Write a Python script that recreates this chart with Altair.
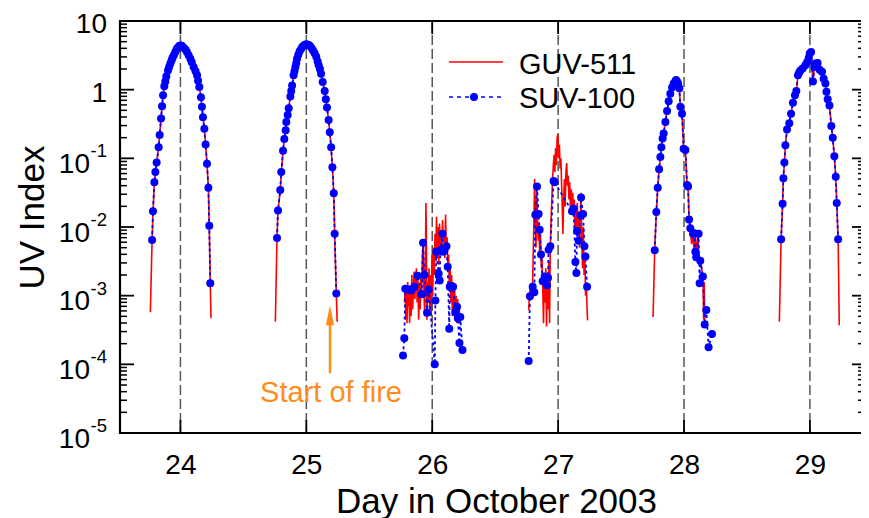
import altair as alt
import pandas as pd

# ---------------- data (log10 of UV index) ----------------
tick_days = [24, 25, 26, 27, 28, 29]

suv_t_24 = [23.775, 23.782, 23.793, 23.801, 23.811, 23.827, 23.835, 23.846, 23.854, 23.862,
            23.872, 23.880, 23.888, 23.901, 23.910, 23.920, 23.930, 23.938, 23.950, 23.959,
            23.970, 23.978, 23.990, 24.000, 24.010, 24.025, 24.040, 24.052, 24.065, 24.079,
            24.090, 24.105, 24.120, 24.132, 24.140, 24.150, 24.163, 24.171, 24.179, 24.190,
            24.200, 24.211, 24.222, 24.229, 24.237]
suv_l_24 = [-2.19, -1.77, -1.35, -1.20, -1.06, -0.84, -0.66, -0.42, -0.24, -0.08,
            0.05, 0.12, 0.19, 0.28, 0.33, 0.38, 0.43, 0.47, 0.51, 0.55,
            0.59, 0.61, 0.635, 0.645, 0.64, 0.61, 0.585, 0.55, 0.50, 0.45,
            0.40, 0.33, 0.27, 0.21, 0.13, 0.04, -0.11, -0.25, -0.40, -0.57,
            -0.80, -1.08, -1.43, -1.98, -2.82]

suv_t_25 = [24.767, 24.775, 24.793, 24.801, 24.815, 24.825, 24.836, 24.841, 24.852, 24.860,
            24.873, 24.880, 24.887, 24.899, 24.906, 24.913, 24.920, 24.926, 24.936, 24.947,
            24.960, 24.971, 24.985, 24.998, 25.012, 25.026, 25.040, 25.053, 25.066, 25.079,
            25.090, 25.098, 25.108, 25.117, 25.130, 25.146, 25.155, 25.164, 25.177, 25.186,
            25.197, 25.207, 25.218, 25.225, 25.238]
suv_l_25 = [-2.16, -1.76, -1.46, -1.20, -0.89, -0.72, -0.59, -0.47, -0.37, -0.27,
            -0.10, -0.02, 0.06, 0.21, 0.27, 0.33, 0.39, 0.45, 0.51, 0.56,
            0.60, 0.63, 0.65, 0.66, 0.655, 0.645, 0.61, 0.57, 0.53, 0.48,
            0.41, 0.355, 0.30, 0.23, 0.11, -0.02, -0.14, -0.26, -0.44, -0.62,
            -0.84, -1.13, -1.51, -2.10, -2.97]

suv_t_26 = [25.768, 25.778, 25.786, 25.813, 25.832, 25.858, 25.884, 25.916, 25.927, 25.938,
            25.959, 25.972, 26.020, 26.025, 26.033, 26.051, 26.059, 26.065, 26.081, 26.086,
            26.097, 26.113, 26.123, 26.135, 26.139, 26.153, 26.166, 26.184, 26.197, 26.203,
            26.216, 26.223, 26.240]
suv_l_26 = [-3.87, -3.62, -2.90, -2.91, -2.92, -2.87, -2.71, -2.98, -2.23, -2.70,
            -3.25, -2.91, -4.00, -3.07, -2.36, -2.68, -2.78, -2.34, -2.10, -2.36,
            -2.34, -2.28, -2.58, -3.48, -2.87, -2.86, -2.87, -3.24, -3.16, -3.33,
            -3.69, -3.31, -3.79]

suv_t_27 = [26.766, 26.776, 26.798, 26.811, 26.819, 26.832, 26.845, 26.853, 26.864, 26.877,
            26.893, 26.912, 26.920, 26.924, 26.938, 26.964, 26.972, 27.110, 27.123, 27.137,
            27.145, 27.150, 27.163, 27.177, 27.182, 27.198, 27.209, 27.217, 27.230]
suv_l_27 = [-3.95, -3.01, -2.87, -2.95, -1.82, -1.41, -1.81, -2.04, -2.40, -2.79,
            -2.72, -2.85, -2.74, -2.33, -2.28, -1.33, -1.35, -1.77, -1.73, -2.51,
            -2.67, -2.06, -2.20, -1.83, -1.57, -1.81, -2.28, -2.43, -2.87]

suv_t_28 = [27.767, 27.780, 27.791, 27.802, 27.812, 27.820, 27.830, 27.838, 27.852, 27.865,
            27.878, 27.891, 27.905, 27.918, 27.930, 27.937, 27.945, 27.953, 27.963, 27.971,
            27.984, 27.997, 28.011, 28.024, 28.032, 28.040, 28.050, 28.071, 28.082, 28.090,
            28.097, 28.116, 28.124, 28.129, 28.150, 28.164, 28.177, 28.195, 28.222]
suv_l_28 = [-2.34, -1.78, -1.43, -1.16, -0.98, -0.84, -0.71, -0.64, -0.47, -0.31,
            -0.17, -0.06, 0.03, 0.09, 0.12, 0.14, 0.12, 0.09, 0.02, -0.25,
            -0.35, -0.86, -0.88, -1.39, -1.41, -1.89, -2.02, -2.10, -2.09, -2.36,
            -2.44, -2.10, -2.82, -2.49, -2.72, -3.42, -3.21, -3.75, -3.56]

suv_t_29 = [28.771, 28.783, 28.789, 28.797, 28.805, 28.818, 28.836, 28.850, 28.865, 28.881,
            28.892, 28.905, 28.915, 28.924, 28.942, 28.963, 28.977, 28.990, 28.998, 29.009,
            29.024, 29.035, 29.043, 29.061, 29.077, 29.096, 29.109, 29.123, 29.131, 29.141,
            29.155, 29.170, 29.181, 29.194, 29.205, 29.213, 29.224]
suv_l_29 = [-2.18, -1.66, -1.29, -1.06, -0.81, -0.58, -0.49, -0.35, -0.19, -0.08,
            -0.02, 0.21, 0.25, 0.28, 0.31, 0.355, 0.40, 0.46, 0.525, 0.55,
            0.12, 0.33, 0.38, 0.39, 0.29, 0.26, 0.16, 0.09, -0.03, -0.14,
            -0.23, -0.53, -0.70, -0.97, -1.27, -1.65, -2.18]

# GUV-511: ends of the clear-sky curves (the rest lies on the SUV-100 points)
guv_start = {24: (23.761, -3.24), 25: (24.754, -3.38), 28: (27.754, -3.31), 29: (28.757, -3.38)}
guv_end = {24: (24.243, -3.33), 25: (25.245, -3.38), 29: (29.233, -3.43)}

guv_t_26 = [25.780, 25.786, 25.790, 25.795, 25.800, 25.805, 25.810, 25.815, 25.820, 25.826,
            25.832, 25.838, 25.844, 25.850, 25.856, 25.862, 25.868, 25.874, 25.880, 25.886,
            25.892, 25.898, 25.904, 25.910, 25.916, 25.922, 25.928, 25.934, 25.940, 25.946,
            25.950, 25.954, 25.958, 25.962, 25.968, 25.974, 25.980, 25.986, 25.992, 25.998,
            26.004, 26.010, 26.016, 26.022, 26.028, 26.034, 26.040, 26.046, 26.052, 26.058,
            26.064, 26.070, 26.076, 26.082, 26.088, 26.094, 26.100, 26.106, 26.112, 26.118,
            26.124, 26.130, 26.136, 26.142, 26.148, 26.154, 26.160, 26.166, 26.172, 26.178,
            26.184, 26.190, 26.196, 26.202, 26.208, 26.214, 26.220]
guv_l_26 = [-3.10, -2.85, -3.35, -2.95, -3.40, -2.80, -3.15, -2.90, -3.40, -2.85,
            -3.30, -2.70, -3.20, -2.95, -2.65, -3.05, -2.80, -2.60, -3.10, -2.70,
            -3.35, -2.85, -3.20, -2.75, -3.00, -2.40, -2.20, -2.90, -3.30, -2.50,
            -1.65, -2.30, -3.35, -2.80, -3.10, -2.60, -3.20, -2.70, -3.30, -2.40,
            -3.00, -2.30, -2.70, -2.10, -2.50, -1.85, -2.40, -2.00, -2.55, -1.95,
            -2.30, -2.05, -2.40, -1.90, -2.20, -2.10, -2.45, -1.82, -2.35, -2.15,
            -2.60, -2.40, -2.90, -2.55, -3.10, -2.70, -3.30, -2.80, -3.20, -2.90,
            -3.35, -3.00, -3.40, -3.05, -3.35, -3.15, -3.40]

guv_t_27 = [26.766, 26.772, 26.778, 26.784, 26.790, 26.796, 26.802, 26.808, 26.813, 26.818,
            26.824, 26.830, 26.836, 26.842, 26.848, 26.854, 26.860, 26.866, 26.872, 26.878,
            26.884, 26.890, 26.896, 26.902, 26.908, 26.914, 26.920, 26.926, 26.932, 26.938,
            26.944, 26.950, 26.956, 26.962, 26.968, 26.974, 26.980, 26.986, 26.992, 26.998,
            27.004, 27.010, 27.016, 27.022, 27.028, 27.034, 27.038, 27.044, 27.050, 27.056,
            27.062, 27.068, 27.074, 27.080, 27.086, 27.092, 27.098, 27.104, 27.110, 27.116,
            27.122, 27.128, 27.134, 27.140, 27.146, 27.152, 27.158, 27.164, 27.170, 27.176,
            27.182, 27.188, 27.194, 27.200, 27.206, 27.212, 27.218, 27.224, 27.230, 27.234]
guv_l_27 = [-3.21, -3.00, -2.90, -3.05, -2.85, -2.95, -2.40, -1.90, -1.30, -1.80,
            -2.30, -1.50, -1.80, -2.20, -1.95, -2.40, -2.10, -2.60, -2.45, -2.90,
            -3.40, -2.70, -3.10, -2.60, -3.45, -2.80, -3.20, -2.50, -3.40, -2.30,
            -1.90, -1.60, -1.30, -1.10, -0.95, -1.20, -0.85, -1.10, -0.70, -0.65,
            -1.00, -0.80, -1.15, -1.00, -1.40, -1.80, -2.10, -1.60, -1.30, -1.70,
            -1.20, -1.07, -1.40, -1.25, -1.60, -1.35, -1.75, -1.45, -1.70, -1.50,
            -1.85, -1.60, -2.10, -1.75, -2.00, -1.65, -2.05, -1.80, -2.30, -1.95,
            -1.50, -2.20, -2.60, -2.00, -2.70, -2.40, -3.00, -2.80, -3.20, -3.36]

guv_t_28_tail = [28.050, 28.060, 28.068, 28.080, 28.090, 28.100, 28.110, 28.120, 28.130,
                 28.140, 28.150, 28.156, 28.160, 28.165]
guv_l_28_tail = [-2.00, -2.25, -2.05, -2.35, -2.10, -2.40, -2.15, -2.50, -2.45,
                 -2.60, -2.75, -3.35, -2.80, -3.38]

# ---------------- tables ----------------
suv = {24: (suv_t_24, suv_l_24), 25: (suv_t_25, suv_l_25), 26: (suv_t_26, suv_l_26),
       27: (suv_t_27, suv_l_27), 28: (suv_t_28, suv_l_28), 29: (suv_t_29, suv_l_29)}

suv_rows = []
for d, (ts, ls) in suv.items():
    for t, l in zip(ts, ls):
        suv_rows.append({"t": t, "uv": 10 ** l, "day": d})
suv_df = pd.DataFrame(suv_rows)

guv_rows = []
def add_guv(d, pts):
    for t, l in pts:
        guv_rows.append({"t": t, "uv": 10 ** l, "day": d})

for d in (24, 25, 29):
    add_guv(d, [guv_start[d]] + list(zip(*suv[d])) + [guv_end[d]])
add_guv(26, list(zip(guv_t_26, guv_l_26)))
add_guv(27, list(zip(guv_t_27, guv_l_27)))
add_guv(28, [guv_start[28]] + [p for p in zip(*suv[28]) if p[0] <= 28.040]
        + list(zip(guv_t_28_tail, guv_l_28_tail)))
guv_df = pd.DataFrame(guv_rows)

days_df = pd.DataFrame({"t": tick_days})
major_df = pd.DataFrame({"uv": [10.0 ** k for k in range(-5, 2)]})
minor_df = pd.DataFrame({"uv": [m * 10.0 ** k for k in range(-5, 1) for m in range(2, 10)]})
ylab_plain = pd.DataFrame({"uv": [10.0, 1.0], "txt": ["10", "1"]})
ylab_exp = pd.DataFrame({"uv": [1e-1, 1e-2, 1e-3, 1e-4, 1e-5],
                         "exp": ["-1", "-2", "-3", "-4", "-5"]})
one = pd.DataFrame({"k": [0]})

# ---------------- styling ----------------
RED = "#ff0000"
BLUE = "#0000ff"
ORANGE = "#ff8c1a"
FONT = "Liberation Sans"
W, H = 741, 412
X0 = 23.52
X1 = X0 + W / 125.9

xs = alt.Scale(domain=[X0, X1], nice=False, zero=False)
ys = alt.Scale(type="log", domain=[1e-5, 10], nice=False)
xaxis = alt.Axis(values=tick_days, format="d", labelFontSize=28, labelColor="black",
                 labelFont=FONT, ticks=False, domain=False, grid=False, labelPadding=18,
                 title="Day in October 2003", titleFontSize=35, titleFontWeight="normal",
                 titleColor="black", titleFont=FONT, titleBaseline="alphabetic",
                 titleY=79, titleX=376)
yaxis = alt.Axis(labels=False, ticks=False, domain=False, grid=False,
                 title="UV Index", titleFontSize=35, titleFontWeight="normal",
                 titleColor="black", titleFont=FONT, titleAngle=270,
                 titleBaseline="alphabetic", titleAlign="center", titleX=-77, titleY=196)
X = alt.X("t:Q", scale=xs, axis=xaxis)
Y = alt.Y("uv:Q", scale=ys, axis=yaxis)

day_lines = alt.Chart(days_df).mark_rule(color="#555555", strokeWidth=1.5,
                                         strokeDash=[10, 4]).encode(x=X)
top_ticks = alt.Chart(days_df).mark_rule(color="black", strokeWidth=1.8).encode(
    x=X, y=alt.value(0), y2=alt.value(13))
bot_ticks = alt.Chart(days_df).mark_rule(color="black", strokeWidth=1.8).encode(
    x=X, y=alt.value(H), y2=alt.value(H - 13))
left_major = alt.Chart(major_df).mark_rule(color="black", strokeWidth=1.8).encode(
    y=Y, x=alt.value(0), x2=alt.value(14))
left_minor = alt.Chart(minor_df).mark_rule(color="black", strokeWidth=1.5).encode(
    y=Y, x=alt.value(0), x2=alt.value(7))
# the right axis line itself lies just beyond the picture; only its inward ticks show
right_major = alt.Chart(major_df).mark_rule(color="black", strokeWidth=1.8).encode(
    y=Y, x=alt.value(W + 1), x2=alt.value(W - 9))
right_minor = alt.Chart(minor_df).mark_rule(color="black", strokeWidth=1.5).encode(
    y=Y, x=alt.value(W + 1), x2=alt.value(W - 3))

# frame of the plot area
frame_top = alt.Chart(one).mark_rule(color="black", strokeWidth=2.2).encode(
    x=alt.value(-1), x2=alt.value(W + 1), y=alt.value(0))
frame_bot = alt.Chart(one).mark_rule(color="black", strokeWidth=2.2).encode(
    x=alt.value(-1), x2=alt.value(W + 1), y=alt.value(H))
frame_left = alt.Chart(one).mark_rule(color="black", strokeWidth=2.2).encode(
    x=alt.value(0), y=alt.value(-1), y2=alt.value(H + 1))

red_line = alt.Chart(guv_df).mark_line(color=RED, strokeWidth=1.6).encode(
    x=X, y=Y, detail="day:N")
blue_line = alt.Chart(suv_df).mark_line(color=BLUE, strokeWidth=1.8,
                                        strokeDash=[3, 3]).encode(x=X, y=Y, detail="day:N")
blue_pts = alt.Chart(suv_df).mark_circle(color=BLUE, size=64, opacity=1).encode(x=X, y=Y)

ylab1 = alt.Chart(ylab_plain).mark_text(align="right", baseline="middle", fontSize=28,
                                        font=FONT, color="black", dy=4).encode(
    x=alt.value(-13), y=Y, text="txt:N")
ylab2 = alt.Chart(ylab_exp).mark_text(align="right", baseline="middle", fontSize=28,
                                      font=FONT, color="black", dy=6.5, text="10").encode(
    x=alt.value(-30), y=Y)
ylab3 = alt.Chart(ylab_exp).mark_text(align="right", baseline="middle", fontSize=18.5,
                                      font=FONT, color="black", dy=-7).encode(
    x=alt.value(-13), y=Y, text="exp:N")

# legend
leg_red = alt.Chart(one).mark_rule(color=RED, strokeWidth=1.6).encode(
    x=alt.value(329), x2=alt.value(383), y=alt.value(41))
leg_blue = alt.Chart(one).mark_rule(color=BLUE, strokeWidth=1.6, strokeDash=[4, 4]).encode(
    x=alt.value(329), x2=alt.value(383), y=alt.value(76))
leg_dot = alt.Chart(one).mark_circle(color=BLUE, size=64, opacity=1).encode(
    x=alt.value(354), y=alt.value(76))
leg_t1 = alt.Chart(one).mark_text(text="GUV-511", align="left", baseline="middle",
                                  fontSize=29, font=FONT, color="black").encode(
    x=alt.value(399), y=alt.value(43.5))
leg_t2 = alt.Chart(one).mark_text(text="SUV-100", align="left", baseline="middle",
                                  fontSize=29, font=FONT, color="black").encode(
    x=alt.value(399), y=alt.value(78))

# annotation
arrow_df = pd.DataFrame({"t": [25.188], "uv": [10 ** -4.13], "uv2": [10 ** -3.30]})
head_df = pd.DataFrame({"t": [25.188], "uv": [10 ** -3.286]})
note_df = pd.DataFrame({"t": [25.196], "uv": [10 ** -4.42], "txt": ["Start of fire"]})
arrow = alt.Chart(arrow_df).mark_rule(color=ORANGE, strokeWidth=2.5).encode(
    x=X, y=Y, y2="uv2")
head = alt.Chart(head_df).mark_point(shape="M0,-1L0.42,1L-0.42,1Z", filled=True, size=400,
                                     color=ORANGE, opacity=1).encode(x=X, y=Y)
note = alt.Chart(note_df).mark_text(align="center", baseline="middle", fontSize=29,
                                    font=FONT, color=ORANGE).encode(x=X, y=Y, text="txt:N")

chart = alt.layer(
    day_lines, top_ticks, bot_ticks, left_major, left_minor, right_major, right_minor,
    red_line, blue_line, blue_pts, ylab1, ylab2, ylab3,
    leg_red, leg_blue, leg_dot, leg_t1, leg_t2, arrow, head, note,
    frame_top, frame_bot, frame_left
).properties(
    width=W, height=H,
    autosize=alt.AutoSizeParams(type="none"),
    padding={"left": 112, "top": 13, "right": 0, "bottom": 85},
    background="white",
).configure_view(stroke=None).configure(font=FONT)

chart.save("out.html", embed_options={"renderer": "svg", "actions": False})
